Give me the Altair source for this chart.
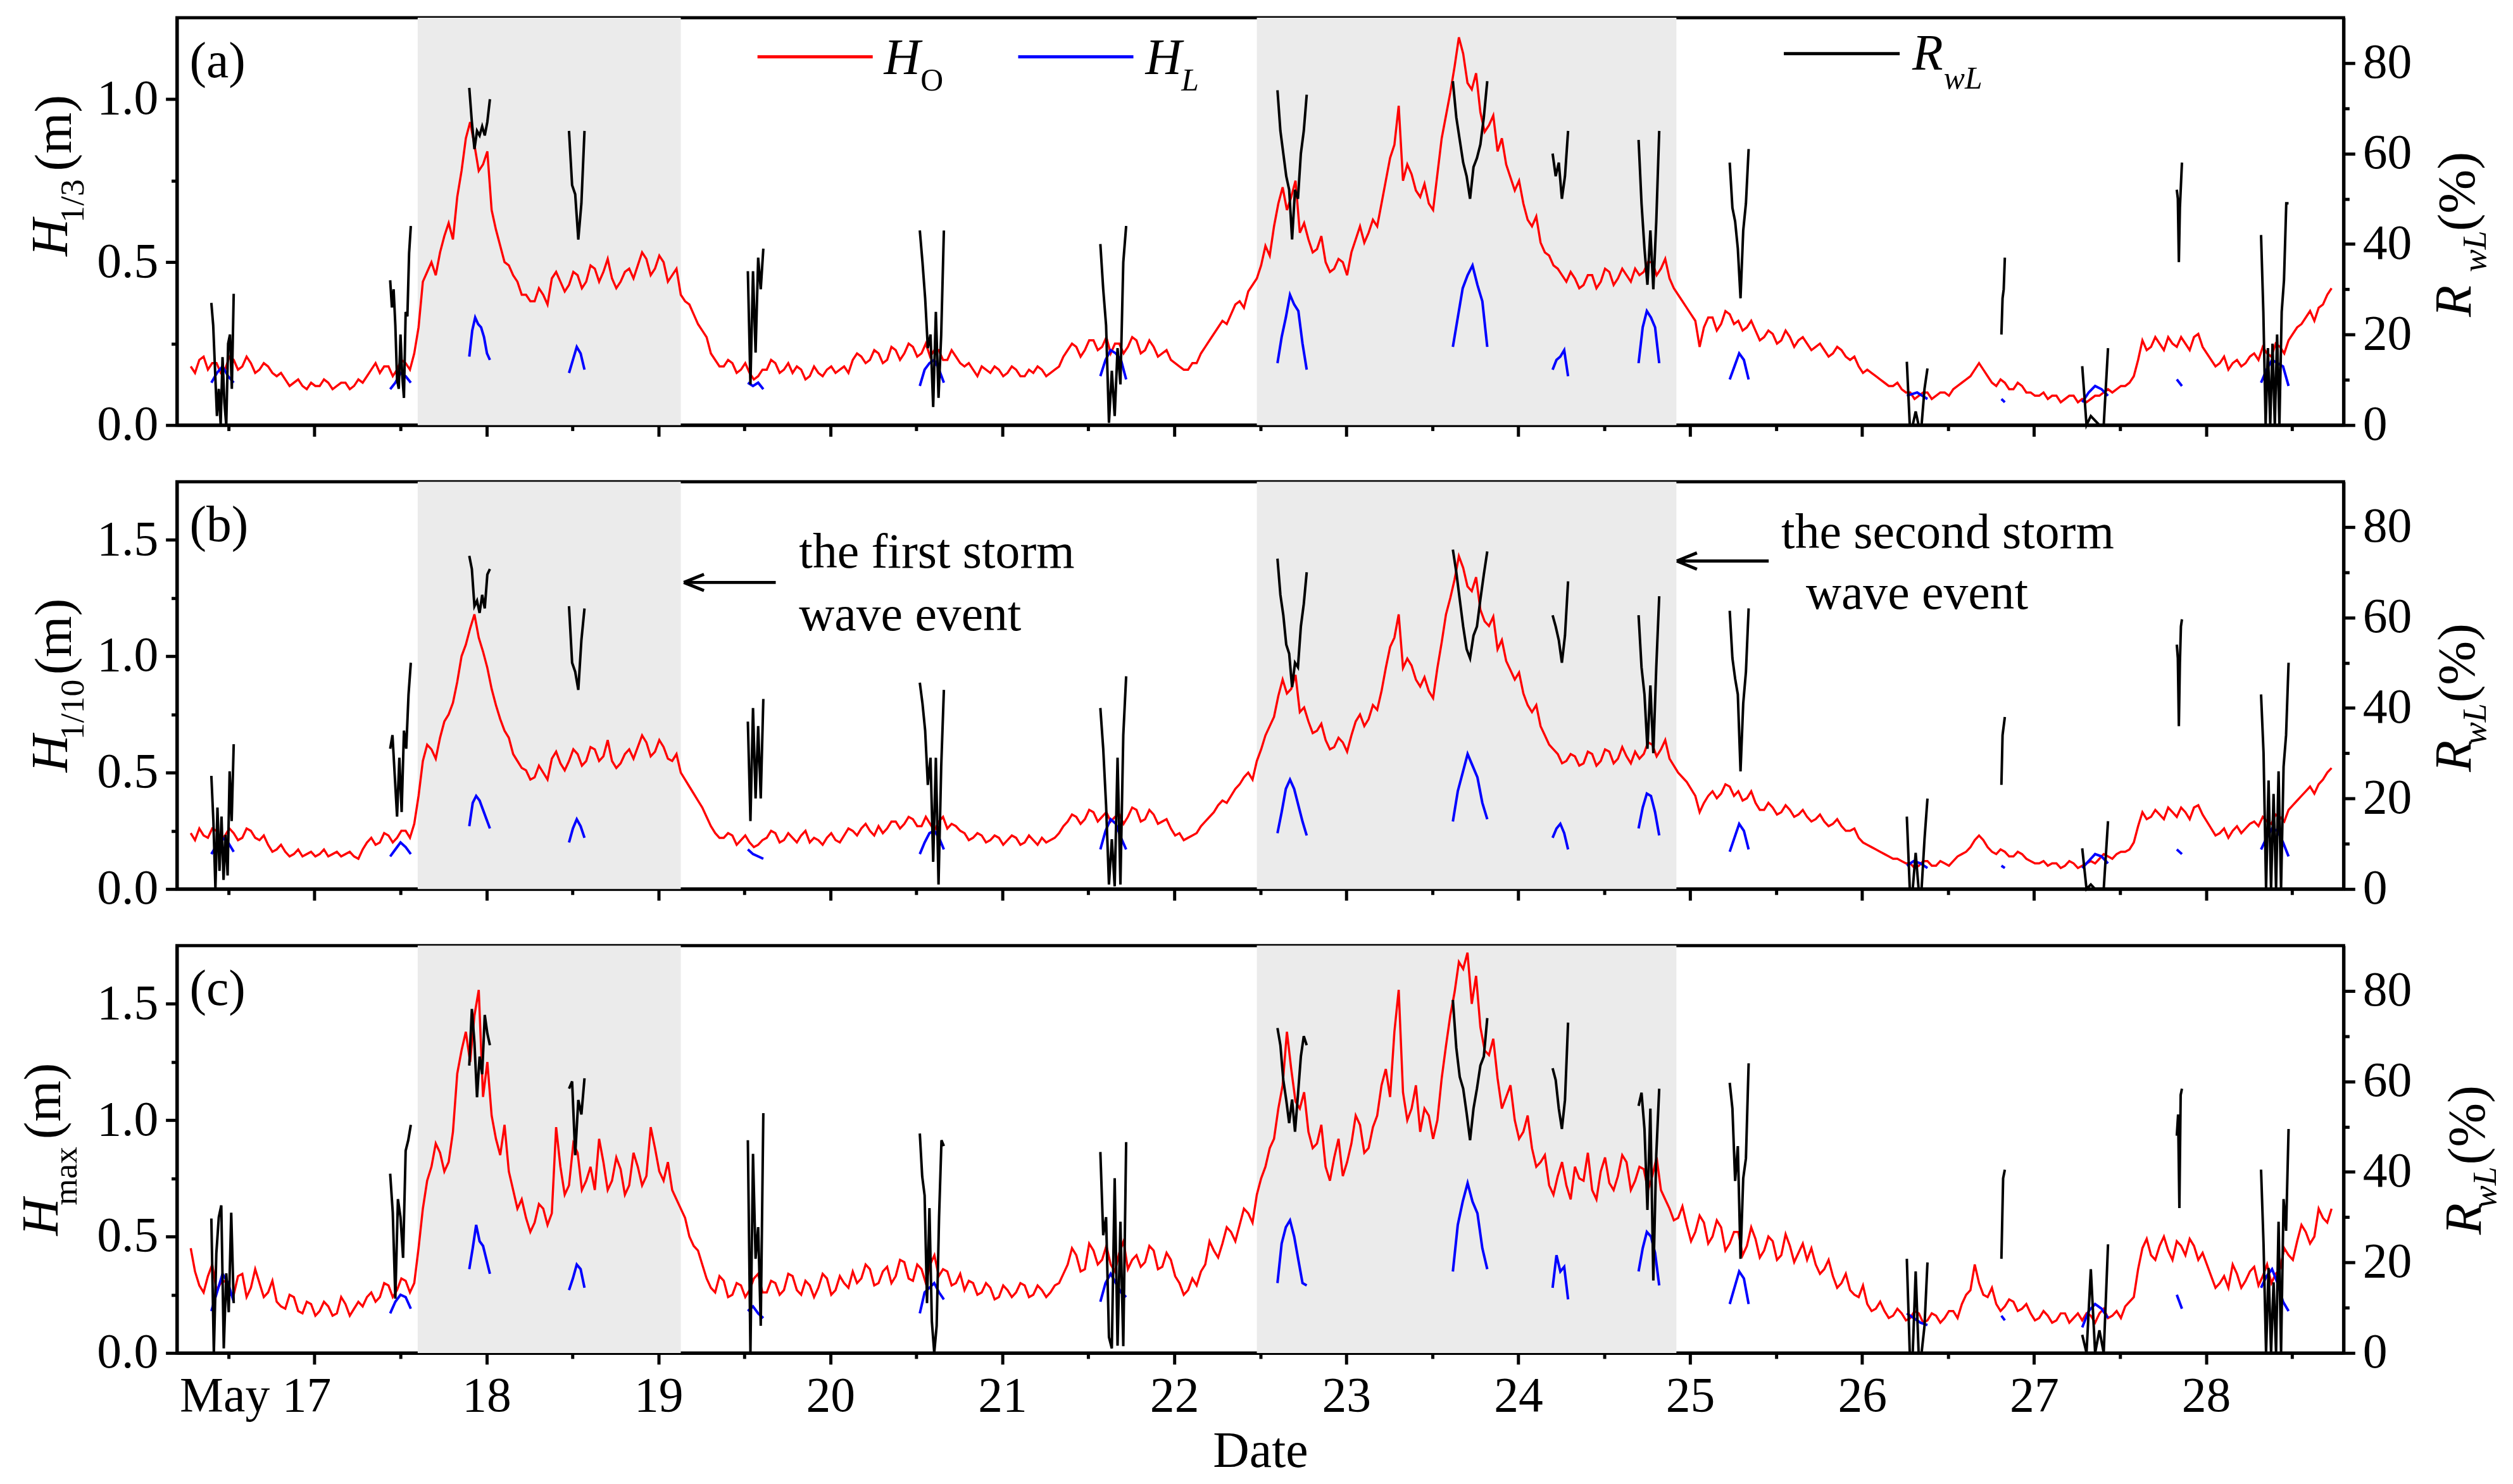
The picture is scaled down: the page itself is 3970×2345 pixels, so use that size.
import altair as alt
import numpy as np
import pandas as pd

FONT = "Liberation Serif"
W, H = 3441, 647

# ---------------- data ----------------
T0, DT = 16.28, 0.05   # H_O samples at T0 + k*DT; the *_mid values fall half-way between them

h13 = [.18,.20,.17,.19,.17,.20,.18,.19,.17,.18,.15,.14,.13,.12,.13,.12,.13,.12,.13,.12,
       .13,.17,.16,.18,.17,.19,.22,.44,.50,.53,.62,.70,.88,.86,.80,.66,.55,.49,.44,.40,
       .38,.40,.45,.44,.43,.46,.44,.48,.47,.45,.44,.48,.49,.51,.48,.50,.46,.40,.37,.31,
       .27,.20,.18,.19,.17,.16,.15,.17,.19,.17,.16,.17,.15,.16,.17,.16,.18,.20,.21,.20,
       .22,.20,.23,.22,.24,.22,.21,.23,.20,.21,.18,.17,.18,.16,.17,.16,.17,.15,.16,.17,
       .16,.18,.23,.24,.23,.26,.24,.22,.25,.24,.26,.23,.24,.22,.20,.18,.17,.19,.24,.28,
       .32,.34,.38,.41,.45,.55,.61,.73,.70,.59,.57,.54,.50,.48,.50,.53,.61,.59,.61,.75,
       .86,.75,.77,.70,.68,.77,.95,1.10,1.14,1.03,.96,.92,.84,.80,.72,.68,.61,.56,.52,.48,
       .44,.45,.43,.46,.44,.47,.45,.46,.48,.47,.50,.48,.45,.40,.36,.32,.30,.33,.31,.34,
       .32,.30,.29,.27,.28,.26,.27,.26,.25,.24,.23,.22,.23,.20,.18,.17,.15,.13,.12,.11,
       .10,.09,.10,.09,.10,.11,.13,.15,.19,.15,.12,.13,.11,.12,.10,.09,.08,.09,.08,.09,
       .08,.08,.09,.11,.11,.12,.15,.26,.24,.25,.27,.24,.25,.27,.24,.20,.19,.17,.20,.19,
       .22,.24,.21,.24,.26,.30,.33,.32,.37,.42]
h13_mid = [.16,.21,.19,.16,.21,.17,.21,.16,.19,.16,.16,.12,.14,.11,.12,.14,.11,.13,.11,.14,
           .15,.19,.18,.15,.20,.17,.30,.47,.46,.58,.57,.78,.93,.78,.84,.60,.50,.46,.40,.38,
           .42,.37,.47,.41,.47,.42,.49,.44,.51,.42,.47,.45,.53,.46,.52,.44,.48,.38,.34,.29,
           .22,.18,.20,.16,.19,.14,.17,.20,.16,.19,.18,.14,.18,.15,.18,.17,.16,.22,.19,.23,
           .19,.24,.20,.25,.21,.25,.23,.20,.23,.19,.19,.15,.17,.18,.15,.18,.15,.17,.18,.15,
           .17,.21,.25,.21,.26,.23,.27,.25,.22,.27,.22,.26,.21,.23,.19,.17,.19,.22,.26,.30,
           .31,.37,.36,.43,.49,.52,.68,.66,.75,.62,.53,.58,.47,.51,.46,.57,.56,.63,.68,.82,
           .98,.80,.72,.74,.66,.88,1.02,1.19,1.05,1.08,.90,.95,.88,.76,.75,.63,.64,.53,.49,.46,
           .47,.42,.46,.42,.48,.43,.48,.44,.46,.50,.46,.51,.42,.38,.34,.24,.33,.29,.35,.31,
           .29,.32,.26,.29,.25,.29,.24,.27,.23,.25,.21,.24,.21,.21,.16,.16,.14,.12,.13,.10,
           .08,.10,.08,.10,.09,.12,.14,.17,.17,.13,.14,.11,.13,.10,.09,.10,.09,.07,.09,.07,
           .07,.09,.10,.10,.12,.13,.20,.23,.27,.23,.25,.27,.23,.28,.22,.18,.21,.19,.18,.21,
           .20,.22,.25,.22,.28,.31,.35,.36,.40]

h110 = [.24,.26,.22,.25,.23,.24,.22,.25,.21,.19,.17,.16,.15,.14,.16,.15,.14,.16,.15,.14,
        .17,.22,.20,.23,.22,.25,.28,.55,.60,.65,.75,.89,1.05,1.18,1.02,.86,.73,.65,.55,.51,
        .48,.50,.56,.54,.55,.58,.55,.60,.57,.55,.54,.60,.61,.63,.59,.61,.55,.50,.44,.38,
        .31,.24,.22,.23,.21,.20,.19,.22,.24,.21,.22,.23,.20,.21,.22,.21,.23,.25,.26,.25,
        .27,.26,.29,.28,.30,.27,.28,.29,.26,.27,.24,.22,.23,.21,.22,.21,.22,.20,.21,.22,
        .21,.24,.29,.31,.30,.33,.31,.29,.32,.31,.34,.30,.32,.29,.26,.24,.22,.24,.29,.33,
        .38,.40,.45,.50,.55,.66,.74,.90,.86,.76,.72,.68,.64,.61,.63,.66,.75,.73,.77,.95,
        1.08,.95,.96,.87,.85,.95,1.18,1.33,1.38,1.28,1.20,1.13,1.03,.98,.90,.84,.76,.70,.62,.58,
        .55,.57,.54,.58,.55,.59,.56,.57,.59,.58,.62,.60,.56,.50,.46,.40,.37,.42,.41,.44,
        .42,.39,.37,.34,.35,.33,.34,.32,.31,.30,.29,.28,.27,.25,.22,.19,.17,.15,.13,.12,
        .11,.10,.12,.10,.11,.12,.15,.18,.23,.18,.15,.16,.14,.15,.12,.11,.10,.11,.10,.11,
        .10,.12,.13,.14,.15,.16,.20,.33,.31,.32,.35,.31,.33,.35,.32,.26,.24,.22,.27,.26,
        .29,.31,.28,.31,.34,.38,.42,.41,.47,.52]
h110_mid = [.21,.23,.26,.21,.26,.21,.26,.22,.23,.16,.19,.14,.17,.15,.14,.17,.15,.14,.16,.13,
            .20,.19,.24,.20,.25,.22,.40,.62,.56,.72,.80,1.00,1.12,1.08,.95,.79,.68,.58,.52,.47,
            .53,.47,.59,.51,.60,.53,.61,.55,.64,.52,.58,.56,.66,.57,.64,.56,.58,.47,.41,.35,
            .27,.22,.24,.19,.23,.18,.21,.25,.20,.24,.20,.25,.22,.19,.24,.20,.26,.23,.28,.23,
            .24,.29,.26,.31,.27,.31,.25,.31,.28,.25,.21,.24,.20,.23,.19,.23,.19,.23,.19,.20,
            .22,.27,.32,.28,.34,.29,.33,.31,.28,.35,.29,.34,.28,.30,.23,.21,.23,.27,.31,.36,
            .37,.43,.48,.47,.60,.70,.83,.84,.92,.78,.67,.71,.60,.65,.59,.72,.70,.79,.85,1.04,
            1.18,.99,.90,.91,.82,1.06,1.25,1.43,1.30,1.34,1.15,1.17,1.07,.94,.93,.79,.79,.66,.60,.54,
            .58,.53,.59,.53,.60,.54,.61,.54,.56,.63,.57,.64,.53,.48,.43,.33,.40,.39,.45,.40,
            .38,.42,.34,.37,.32,.36,.31,.34,.29,.32,.27,.30,.25,.26,.20,.18,.16,.14,.13,.11,
            .09,.12,.10,.12,.10,.14,.16,.21,.21,.16,.17,.14,.16,.13,.11,.12,.11,.09,.12,.09,
            .11,.11,.15,.13,.16,.17,.27,.30,.34,.30,.33,.35,.30,.36,.29,.23,.26,.25,.24,.28,
            .27,.29,.32,.29,.36,.40,.44,.45,.50]

hmax = [.45,.29,.33,.27,.31,.25,.34,.28,.30,.26,.22,.19,.24,.17,.21,.18,.20,.17,.21,.19,
        .20,.26,.24,.29,.27,.31,.30,.62,.80,.86,.82,1.20,1.38,1.45,1.10,1.02,.85,.78,.62,.58,
        .56,.62,.60,.80,.72,.86,.74,.70,.82,.74,.79,.72,.80,.76,.88,.74,.70,.62,.50,.44,
        .32,.26,.31,.25,.29,.27,.34,.26,.30,.27,.33,.25,.29,.28,.32,.27,.30,.35,.32,.36,
        .30,.37,.33,.39,.31,.36,.38,.33,.35,.30,.27,.30,.26,.28,.24,.27,.26,.29,.25,.27,
        .26,.30,.38,.42,.36,.44,.40,.38,.43,.36,.42,.39,.44,.37,.40,.30,.27,.29,.38,.44,
        .47,.52,.55,.60,.68,.80,.92,1.15,1.22,1.05,.95,.90,.80,.84,.76,.90,.98,.88,1.02,1.22,
        1.38,1.12,1.05,.95,1.02,1.00,1.32,1.55,1.65,1.50,1.40,1.28,1.18,1.10,1.00,.95,.88,.82,.72,.76,
        .72,.80,.74,.70,.78,.73,.76,.82,.74,.79,.76,.70,.62,.58,.55,.52,.56,.50,.54,.47,
        .52,.46,.49,.44,.48,.42,.46,.43,.40,.38,.36,.33,.30,.27,.24,.21,.19,.18,.16,.17,
        .15,.17,.14,.16,.15,.18,.21,.27,.30,.24,.21,.20,.22,.19,.17,.15,.16,.14,.17,.15,
        .14,.16,.17,.15,.18,.20,.24,.45,.42,.46,.44,.48,.42,.46,.43,.33,.30,.28,.34,.31,
        .37,.33,.30,.36,.42,.48,.52,.50,.58,.62]
hmax_mid = [.35,.26,.38,.30,.25,.33,.24,.36,.24,.31,.20,.25,.18,.22,.16,.22,.16,.24,.16,.22,
            .24,.22,.30,.24,.32,.26,.45,.74,.90,.78,.95,1.30,1.25,1.56,1.25,.92,.98,.70,.66,.52,
            .64,.55,.97,.68,.90,.70,.80,.92,.70,.84,.68,.86,.72,.97,.78,.82,.66,.58,.46,.38,
            .28,.33,.24,.30,.24,.32,.26,.31,.25,.34,.27,.31,.24,.34,.25,.33,.28,.30,.38,.29,
            .35,.30,.40,.32,.38,.30,.42,.36,.29,.34,.31,.25,.30,.23,.29,.24,.30,.24,.29,.24,
            .29,.34,.45,.35,.47,.38,.46,.35,.48,.40,.37,.46,.36,.43,.33,.25,.32,.35,.48,.41,
            .54,.48,.62,.56,.75,.88,1.05,1.38,1.08,1.12,.88,.98,.74,.92,.82,1.02,.86,.97,1.15,1.10,
            1.56,1.00,1.15,1.05,.92,1.18,1.45,1.68,1.72,1.62,1.30,1.35,1.05,1.15,.92,1.02,.80,.85,.68,.82,
            .66,.75,.86,.66,.84,.70,.85,.70,.80,.70,.84,.66,.57,.63,.48,.59,.47,.57,.44,.52,
            .42,.54,.41,.50,.40,.51,.39,.47,.45,.34,.40,.28,.34,.25,.29,.18,.22,.15,.19,.14,
            .18,.13,.17,.13,.18,.15,.25,.38,.25,.28,.18,.23,.18,.21,.14,.18,.13,.17,.13,.17,
            .17,.13,.19,.16,.15,.22,.36,.49,.40,.50,.40,.46,.49,.40,.38,.28,.33,.38,.28,.35,
            .29,.38,.34,.45,.40,.55,.47,.62,.56]

# time windows of the H_L / R_wL measurement bursts
windows = [(16.40, 16.53), (17.44, 17.56), (17.90, 18.02), (18.48, 18.57), (19.52, 19.61),
           (20.52, 20.66), (21.57, 21.72), (22.60, 22.77), (23.62, 23.82), (24.20, 24.29),
           (24.70, 24.82), (25.23, 25.34), (26.26, 26.38), (26.81, 26.83), (27.28, 27.43),
           (27.83, 27.86), (28.32, 28.48)]

hl_a = [[.13,.16,.18,.15,.13], [.11,.13,.16,.15,.13], [.21,.29,.33,.31,.30,.27,.22,.20],
        [.16,.20,.24,.22,.17], [.13,.12,.13,.11], [.12,.17,.19,.20,.17,.13],
        [.15,.20,.23,.22,.20,.14], [.19,.27,.33,.40,.37,.35,.25,.17],
        [.24,.33,.42,.46,.49,.43,.38,.24], [.17,.20,.21,.23,.15], [.19,.30,.35,.33,.30,.19],
        [.14,.18,.22,.20,.14], [.09,.10,.08], [.08,.07], [.07,.10,.12,.11,.09], [.14,.12],
        [.13,.17,.20,.19,.18,.12]]
rwl_a = [[27,22,12,2,8,0,15,5,0,18,20,8,29], [32,26,30,22,10,8,20,11,6,25,24,38,44],
         [74.5,67,61,65,64,66,64,67,72], [65,53,51,41,49,65], [34,9,34,16,37,30,39],
         [43,36,28,17,20,4,25,6,20,43], [40,30,22,0.5,12,2,17,9,36,44],
         [74,65,60,55,52,41,52,50,60,65,73], [76,68,63,58,55,50,57,59,62,68,76],
         [60,55,58,50,55,65], [63,49,39,31,43,30,45,65], [58,48,45,39,28,43,49,61],
         [14,0,0,3,0,0,8,12.5], [20,28,30,37], [13,0,2,1,0,0,17], [52,50,36,48,53,58],
         [42,25,0,17,0,18,0,20,0,25,32,49,49]]

hl_b = [[.15,.19,.22,.20,.16], [.14,.17,.20,.18,.15], [.27,.37,.40,.38,.34,.30,.26],
        [.20,.26,.30,.27,.22], [.17,.15,.14,.13], [.15,.20,.24,.25,.22,.17],
        [.17,.25,.30,.28,.22,.17], [.24,.33,.43,.47,.43,.36,.29,.23],
        [.29,.42,.50,.58,.53,.48,.37,.30], [.22,.26,.28,.24,.17], [.26,.35,.41,.40,.33,.23],
        [.16,.22,.28,.25,.17], [.10,.12,.11,.09], [.10,.09], [.09,.12,.15,.14,.11], [.17,.15],
        [.17,.22,.26,.25,.20,.14]]
rwl_b = [[25,15,0,18,4,16,2,12,3,26,15,32], [31,34,25,16,29,17,35,31,43,50],
         [73.6,70.7,62.5,63.7,61,65,62,69.5,70.7], [62.5,50,48,44,55,62], [37,15,40,20,36,20,42],
         [45.6,41,35,23,29,6,29,1,27,44], [40,31,18.5,1,11,0.6,29,1,34,47],
         [73,65,60.5,54,52,44.6,50,49,58,63,70], [75,70,64,58,53,51,56,58,64,69.5,74.6],
         [60.5,58,55,50,56,68], [60.5,49,43,31,45,30,49,64.7], [61.5,51,46.5,43,26,41,48,62],
         [16,0,0,8,0,0,11,20], [23,34,36,38], [9,0,1,0,0,0,15], [54,51,36,50,58,59.6],
         [43,30,0,24,0,21,0,26,0,27,34,50]]

hl_c = [[.18,.26,.34,.30,.22], [.17,.22,.25,.24,.19], [.36,.45,.55,.48,.46,.40,.34],
        [.27,.32,.38,.36,.28], [.18,.20,.17,.15], [.17,.26,.28,.30,.26,.23],
        [.22,.30,.34,.30,.26,.24], [.30,.47,.54,.57,.50,.40,.30,.29],
        [.35,.55,.65,.73,.65,.60,.45,.36], [.28,.42,.35,.37,.23], [.35,.45,.52,.50,.43,.29],
        [.21,.28,.35,.32,.21], [.17,.15,.13,.12], [.16,.14], [.11,.18,.21,.19,.15], [.25,.19],
        [.28,.33,.36,.30,.22,.18]]
rwl_c = [[29.7,0,22,30,32.6,1,17.6,9,31,11], [39.6,31,12,34,30,21,44.7,47,50.4],
         [63.5,76,68.6,56.5,65.5,61.6,74.7,70.6,68], [58.4,60,43.7,55.9,52.7,60.7],
         [47,0,44,20.8,27.8,6,53], [48.5,39,34.8,11,32,7,0,6,30,47,45.7],
         [44.4,26,30,3.5,1,38.6,1.6,29,1.5,46.6], [71.8,68,60.3,55.9,50.8,56,48.9,57,65.5,70,68],
         [78,67.4,61,58.4,53,47,54,58.4,63.5,65.5,74], [62.9,60.3,54,49.5,55.9,73],
         [54.6,57.5,49.5,31.6,54,16,43.7,58.4], [59.7,54,38,45.7,20.8,38.6,43,64],
         [20.8,0,0,18,0,0,6,20], [20.8,38.6,40.5], [4,0,18.5,0,5,0,24], [48,52.7,32,57,58.4],
         [40.5,24,0,18.8,0,15.6,0,29,0,34,27,49.5]]

storm_start = [17.60, 22.48]
storm_end = [19.13, 24.92]

x_ticks = [16.5 + 0.5 * i for i in range(25)]


# ---------------- helpers ----------------
def series_df(vals, mids):
    t, v = [], []
    for k, x in enumerate(vals):
        t.append(T0 + DT * k)
        v.append(x)
        if k < len(mids):
            t.append(T0 + DT * (k + 0.5))
            v.append(mids[k])
    return pd.DataFrame({"t": t, "v": v})


def burst_df(groups, col):
    rows = []
    for k, ((a, b), vals) in enumerate(zip(windows, groups)):
        for t, v in zip(np.linspace(a, b, len(vals)), vals):
            rows.append({"t": float(t), col: v, "ev": k})
    return pd.DataFrame(rows)


TICK_MAJ, TICK_MIN = 18, 9


def x_axis(show):
    kw = dict(values=x_ticks, grid=False, labels=show, labelLimit=1000, labelOverlap=False,
              tickSize={"condition": {"test": "datum.value % 1 !== 0", "value": TICK_MIN}, "value": TICK_MAJ},
              labelExpr="datum.value % 1 !== 0 ? '' : (datum.value === 17 ? 'May 17' : format(datum.value, 'd'))",
              labelAlign={"condition": {"test": "datum.value === 17", "value": "right"}, "value": "center"},
              labelOffset={"condition": {"test": "datum.value === 17", "value": 26}, "value": 0},
              labelPadding=12, titlePadding=10, title="Date" if show else None)
    return alt.Axis(**kw)


def xenc(field, show):
    return alt.X(f"{field}:Q", scale=alt.Scale(domain=[16.2, 28.8], nice=False, zero=False),
                 axis=x_axis(show), title="Date" if show else None)


def txt(s, x, y, size=78, style="normal", weight="normal", angle=0, align="left", baseline="alphabetic"):
    return alt.Chart(alt.Data(values=[{"s": s}])).mark_text(
        font=FONT, fontSize=size, fontStyle=style, fontWeight=weight, angle=angle,
        align=align, baseline=baseline, color="black").encode(
        text="s:N", x=alt.value(x), y=alt.value(y))


def seg(x1, y1, x2, y2, color="black", w=5):
    return alt.Chart(alt.Data(values=[{"a": 1}])).mark_rule(color=color, strokeWidth=w).encode(
        x=alt.value(x1), y=alt.value(y1), x2=alt.value(x2), y2=alt.value(y2))


def panel(vals, mids, hl, rwl, ymax, yticks, show_x, extras):
    yl = alt.Axis(values=yticks, grid=False, title=None,
                  tickSize={"condition": {"test": "datum.value % 0.5 !== 0", "value": TICK_MIN}, "value": TICK_MAJ},
                  labelExpr="datum.value % 0.5 === 0 ? format(datum.value, '.1f') : ''", labelPadding=12)
    yscale = alt.Scale(domain=[0, ymax], nice=False, zero=True)
    shade = alt.Chart(pd.DataFrame({"x0": storm_start, "x1": storm_end})).mark_rect(
        color="#ebebeb").encode(x=xenc("x0", show_x), x2="x1", y=alt.value(0), y2=alt.value(H))
    red = alt.Chart(series_df(vals, mids)).mark_line(color="#ff0000", strokeWidth=3.5).encode(
        x=xenc("t", show_x), y=alt.Y("v:Q", scale=yscale, axis=yl, title=None))
    blue = alt.Chart(burst_df(hl, "v")).mark_line(color="#0000ff", strokeWidth=4).encode(
        x=xenc("t", show_x), y=alt.Y("v:Q", scale=yscale, axis=yl, title=None), detail="ev:N")
    left = alt.layer(shade, red, blue, *extras)
    yr = alt.Axis(orient="right", values=list(range(0, 90, 10)), grid=False, title=None,
                  tickSize={"condition": {"test": "datum.value % 20 !== 0", "value": TICK_MIN}, "value": TICK_MAJ},
                  labelExpr="datum.value % 20 === 0 ? datum.label : ''", labelPadding=12)
    black = alt.Chart(burst_df(rwl, "r")).mark_line(color="black", strokeWidth=4).encode(
        x=xenc("t", show_x),
        y=alt.Y("r:Q", scale=alt.Scale(domain=[0, 90], nice=False), axis=yr, title=None),
        detail="ev:N")
    return alt.layer(left, black).resolve_scale(y="independent").properties(width=W, height=H)


def left_title(sub, hx, hy, sx, sy, mx, my, sub_style="normal"):
    return [txt("H", hx, hy, 82, style="italic", angle=270, align="center", baseline="middle"),
            txt(sub, sx, sy, 54, style=sub_style, angle=270, align="center", baseline="middle"),
            txt("(m)", mx, my, 84, angle=270, align="center", baseline="middle")]


def right_title(ry, wy, py, dx=0):
    return [txt("R", 3618 + dx, ry, 82, style="italic", angle=270, align="center", baseline="middle"),
            txt("wL", 3651 + dx, wy, 54, style="italic", angle=270, align="center", baseline="middle"),
            txt("(%)", 3623 + dx, py, 84, angle=270, align="center", baseline="middle")]


# ---------------- panel decorations ----------------
extras_a = ([txt("(a)", 20, 94, 80)]
            + left_title("1/3", -199, 349, -164, 291, -193, 183)
            + right_title(450, 371, 276)
            + [seg(922, 62, 1105, 62, "#ff0000"), txt("H", 1123, 89, 80, style="italic"),
               txt("O", 1181, 116, 50),
               seg(1336, 62, 1519, 62, "#0000ff"), txt("H", 1538, 89, 80, style="italic"),
               txt("L", 1595, 116, 50, style="italic"),
               seg(2552, 57, 2736, 57, "black"), txt("R", 2756, 82, 80, style="italic"),
               txt("wL", 2806, 112, 50, style="italic")])

extras_b = ([txt("(b)", 20, 94, 80)]
            + left_title("1/10", -199, 432, -164, 362, -193, 246)
            + right_title(436, 385, 288)
            + [txt("the first storm", 988, 137, 78), txt("wave event", 988, 236, 78),
               seg(805, 160, 951, 160), seg(805, 160, 837, 147), seg(805, 160, 837, 173),
               txt("the second storm", 2548, 105, 78), txt("wave event", 2587, 202, 78),
               seg(2382, 126, 2528, 126), seg(2382, 126, 2414, 113), seg(2382, 126, 2414, 139)])

extras_c = ([txt("(c)", 20, 94, 80)]
            + left_title("max", -215, 431, -175, 366, -211, 247)
            + right_title(434, 384, 285, dx=16))

pa = panel(h13, h13_mid, hl_a, rwl_a, 1.25, [0, .25, .5, .75, 1.0], False, extras_a)
pb = panel(h110, h110_mid, hl_b, rwl_b, 1.75, [0, .25, .5, .75, 1.0, 1.25, 1.5], False, extras_b)
pc = panel(hmax, hmax_mid, hl_c, rwl_c, 1.75, [0, .25, .5, .75, 1.0, 1.25, 1.5], True, extras_c)

chart = alt.vconcat(pa, pb, pc, spacing=45).properties(
    padding={"left": 14, "top": 11, "right": 5, "bottom": 5}
).configure(background="white").configure_view(stroke="black", strokeWidth=5).configure_axis(
    domainColor="black", domainWidth=5, tickColor="black", tickWidth=5,
    labelFont=FONT, labelFontSize=78, labelColor="black",
    titleFont=FONT, titleFontSize=80, titleColor="black", titleFontWeight="normal"
)

chart.save("out.html", embed_options={"renderer": "svg", "actions": False})
